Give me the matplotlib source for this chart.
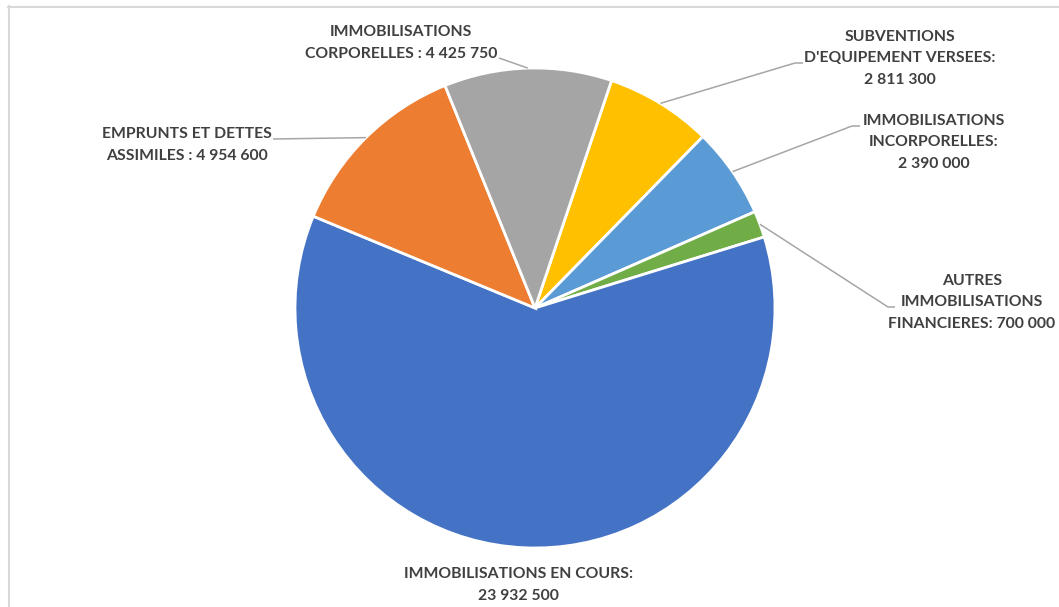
import matplotlib
matplotlib.use("Agg")
import matplotlib.pyplot as plt
import numpy as np

# Slices in clockwise order, starting just right of 12 o'clock
categories = [
    "SUBVENTIONS\nD'EQUIPEMENT VERSEES:",
    "IMMOBILISATIONS\nINCORPORELLES:",
    "AUTRES\nIMMOBILISATIONS\nFINANCIERES:",
    "IMMOBILISATIONS EN COURS:",
    "EMPRUNTS ET DETTES\nASSIMILES :",
    "IMMOBILISATIONS\nCORPORELLES :",
]
values = [2811300, 2390000, 700000, 23932500, 4954600, 4425750]
value_labels = ["2 811 300", "2 390 000", "700 000", "23 932 500", "4 954 600", "4 425 750"]
colors = ["#FFC000", "#5B9BD5", "#70AD47", "#4472C4", "#ED7D31", "#A5A5A5"]

W, H = 1059, 607
fig = plt.figure(figsize=(W / 100, H / 100), dpi=100)
fig.patch.set_facecolor("white")
ax = fig.add_axes([0, 0, 1, 1])

def Y(y):
    return H - y

cx, cy, r = 535, Y(308), 240
wedges, _ = ax.pie(values, colors=colors, startangle=71.4, counterclock=False,
                   center=(cx, cy), radius=r, frame=True,
                   wedgeprops=dict(edgecolor="white", linewidth=2.0))
ax.set_xlim(0, W)
ax.set_ylim(0, H)
ax.set_aspect("equal")
ax.axis("off")

def label_text(i):
    name = categories[i]
    if i in (2, 4, 5):
        return name + " " + value_labels[i]
    return name + "\n" + value_labels[i]

# label anchor (centre of text block) and leader path, in pixel coords from top
label_pos = [(900, 58.5), (934, 142.5), (972, 302.5), (518, 585), (187, 145), (401, 43)]
leader_pts = [
    [(795, 63), (803, 63)],
    [(852, 126), (860, 126)],
    [(888, 307), (895, 307)],
    None,
    [(273, 139)],
    [(499, 58)],
]

txt_color = "#404040"
line_color = "#A6A6A6"
for i, w in enumerate(wedges):
    mid = np.deg2rad((w.theta1 + w.theta2) / 2)
    ex, ey = cx + r * np.cos(mid), cy + r * np.sin(mid)
    if leader_pts[i] is not None:
        xs = [ex] + [p[0] for p in leader_pts[i]]
        ys = [ey] + [Y(p[1]) for p in leader_pts[i]]
        ax.plot(xs, ys, color=line_color, lw=1.1, solid_capstyle="butt", zorder=1)
    lx, ly = label_pos[i]
    ax.text(lx, Y(ly), label_text(i), ha="center", va="center", multialignment="center",
            fontsize=11.3, family=["Lato", "DejaVu Sans"], fontweight="bold",
            color=txt_color, linespacing=1.65)

# chart-area border
border = "#D9D9D9"
fig.add_artist(plt.Line2D([8.5 / W, 8.5 / W], [0, 1 - 6 / H], transform=fig.transFigure,
                          color=border, lw=1.5))
fig.add_artist(plt.Line2D([8 / W, 1], [1 - 6.5 / H, 1 - 6.5 / H], transform=fig.transFigure,
                          color=border, lw=1.5))

fig.savefig("out.png", dpi=100, facecolor="white")
